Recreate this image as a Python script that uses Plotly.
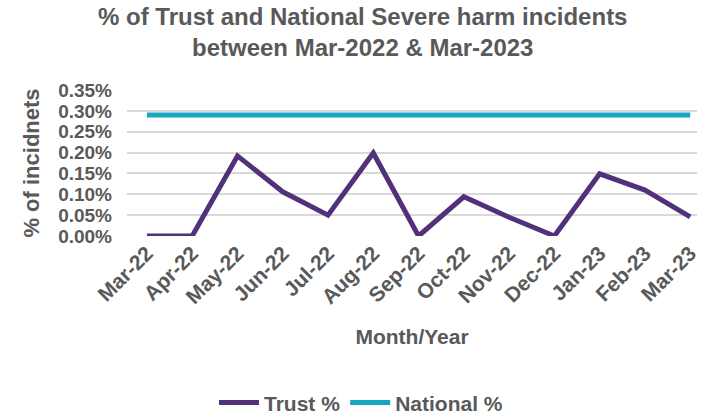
import plotly.graph_objects as go

months = ["Mar-22", "Apr-22", "May-22", "Jun-22", "Jul-22", "Aug-22", "Sep-22",
          "Oct-22", "Nov-22", "Dec-22", "Jan-23", "Feb-23", "Mar-23"]
trust_pct = [0.0, 0.0, 0.00192, 0.00106, 0.00050, 0.00199, 0.0,
             0.00094, 0.00045, 0.0, 0.00149, 0.00110, 0.00046]
national_pct = [0.0029] * 13

FONT = "Liberation Sans, Arial, sans-serif"
GREY = "#595959"

fig = go.Figure()
fig.add_trace(go.Scatter(x=list(range(len(months))), y=trust_pct, name="<b>Trust %</b>",
                         mode="lines", line=dict(color="#51317a", width=5)))
fig.add_trace(go.Scatter(x=list(range(len(months))), y=national_pct, name="<b>National %</b>",
                         mode="lines", line=dict(color="#17a6c0", width=5)))

fig.update_layout(
    width=701, height=414,
    margin=dict(l=127, r=1, t=90, b=178),
    paper_bgcolor="white", plot_bgcolor="white",
    font=dict(family=FONT, color=GREY, size=21),
    showlegend=True,
    legend=dict(orientation="h", xref="container", x=0.515, xanchor="center",
                yref="container", y=0.027, yanchor="middle",
                font=dict(size=21, color=GREY, family=FONT), itemwidth=40),
    xaxis=dict(range=[-0.44, 12.15], tickmode="array", tickvals=list(range(len(months))),
               ticktext=["<b>%s</b>" % m for m in months], tickangle=-45,
               showgrid=False, zeroline=False, showline=False, ticks="",
               ticklabeloverflow="allow",
               tickfont=dict(size=21, color=GREY),
               title=dict(text="<b>Month/Year</b>", font=dict(size=21, color=GREY), standoff=22)),
    yaxis=dict(range=[0, 0.0035], dtick=0.0005, tickformat=".2%",
               showgrid=True, gridcolor="#d9d9d9", gridwidth=1.5,
               zeroline=False, showline=False, ticks="", ticklabelstandoff=14,
               tickfont=dict(size=19, color=GREY, weight="bold"),
               title=dict(text="<b>% of incidnets</b>", font=dict(size=22, color=GREY), standoff=12)),
    annotations=[dict(text="<b>% of Trust and National Severe harm incidents<br>between Mar-2022 & Mar-2023</b>",
                      xref="paper", yref="paper", x=0.4136, y=1.61, xanchor="center", yanchor="top",
                      showarrow=False, align="center",
                      font=dict(size=24, color=GREY, family=FONT))],
)

fig.write_html("out.html")
